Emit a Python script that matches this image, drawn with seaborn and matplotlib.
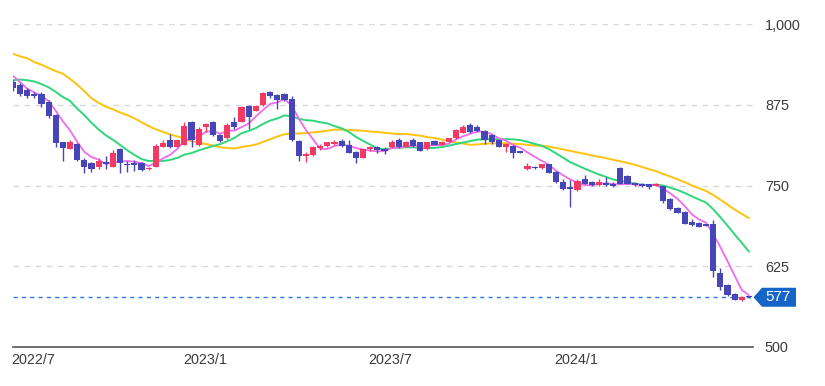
import numpy as np
import pandas as pd
import matplotlib
matplotlib.use("Agg")
import matplotlib.pyplot as plt
import seaborn as sns
from matplotlib.patches import Polygon
from matplotlib.transforms import IdentityTransform, ScaledTranslation

# ---------------- data (weekly candles) ----------------
opens = [910, 906, 898, 891, 892, 880, 859, 817, 807, 814,
         789, 785, 778, 787, 779, 807, 784, 785, 785, 775,
         779, 810, 820, 810, 813, 849, 813, 841, 849, 828,
         823, 849, 849, 873, 866, 874, 895, 890, 892, 884,
         819, 795, 797, 808, 811, 815, 819, 813, 802, 793,
         806, 809, 807, 809, 820, 810, 820, 817, 806, 819,
         813, 818, 823, 832, 843, 841, 835, 828, 820, 810,
         811, 803, 775, 779, 777, 783, 771, 756, 748, 743,
         760, 756, 751, 754, 753, 777, 764, 754, 753, 752,
         750, 749, 729, 715, 709, 694, 692, 690, 690, 615,
         596, 582, 572, 578]
closes = [901, 891, 889, 889, 876, 858, 816, 808, 818, 789,
          779, 776, 788, 784, 801, 785, 782, 782, 774, 777,
          811, 816, 809, 820, 842, 820, 838, 845, 828, 819,
          843, 840, 872, 856, 873, 893, 888, 883, 883, 820,
          795, 799, 810, 811, 817, 818, 811, 801, 793, 806,
          809, 805, 803, 818, 809, 817, 811, 804, 817, 813,
          818, 823, 836, 841, 833, 835, 821, 817, 810, 815,
          800, 801, 780, 777, 783, 770, 755, 744, 745, 757,
          753, 751, 756, 751, 749, 753, 753, 751, 749, 747,
          753, 726, 713, 708, 691, 689, 686, 688, 617, 593,
          580, 573, 578, 577]
highs = [913, 909, 901, 894, 895, 883, 860, 818, 820, 816,
         792, 787, 792, 796, 805, 808, 788, 790, 786, 779,
         814, 820, 829, 821, 849, 850, 840, 847, 850, 830,
         846, 856, 873, 874, 875, 894, 896, 891, 893, 888,
         820, 802, 811, 814, 818, 821, 822, 820, 803, 807,
         811, 811, 810, 820, 823, 819, 823, 818, 818, 820,
         819, 824, 837, 843, 846, 844, 836, 830, 821, 816,
         812, 804, 785, 780, 784, 784, 772, 760, 758, 760,
         766, 757, 760, 763, 755, 778, 766, 755, 754, 753,
         754, 750, 730, 716, 710, 698, 693, 691, 697, 623,
         597, 584, 579, 579]
lows = [896, 889, 886, 886, 872, 855, 810, 788, 806, 788,
        770, 771, 776, 776, 778, 770, 771, 773, 773, 774,
        778, 809, 808, 809, 812, 809, 811, 833, 826, 817,
        822, 838, 848, 838, 865, 873, 886, 868, 881, 819,
        788, 787, 796, 805, 810, 813, 810, 800, 785, 792,
        804, 800, 799, 808, 808, 809, 810, 803, 805, 812,
        812, 817, 822, 831, 831, 833, 815, 815, 809, 802,
        792, 800, 774, 776, 776, 769, 754, 743, 716, 742,
        752, 750, 750, 750, 748, 752, 752, 749, 748, 745,
        749, 723, 712, 707, 690, 688, 685, 687, 609, 588,
        579, 572, 571, 576]

# moving-average values at the start of the window (earlier weeks are not shown)
ma5_head = [920, 910, 900, 894]
ma13_head = [913, 914, 913, 911, 907, 902, 895, 887, 881, 869, 859, 847]
ma26_head = [954, 950, 947, 941, 937, 932, 927, 923, 915, 906, 896, 885, 878,
             872, 868, 863, 859, 854, 848, 842, 837, 833, 829, 826, 823]

tick_index = [0, 24, 50, 76]
tick_labels = ["2022/7", "2023/1", "2023/7", "2024/1"]
ytick_values = [500, 625, 750, 875, 1000]
last_price = 577

# ---------------- styling ----------------
sns.set_theme(style="white")
plt.rcParams["font.family"] = ["Liberation Sans", "DejaVu Sans"]

UP = "#f23a63"
DOWN = "#4646b8"
PINK = "#ef6cef"
GREEN = "#2fd67a"
YELLOW = "#ffc20e"
TEXT = "#3c3c3c"

n = len(closes)
week = np.arange(n)
df = pd.DataFrame({"week": week, "open": opens, "high": highs,
                   "low": lows, "close": closes})
cl = df["close"].astype(float)
df["ma5"] = cl.rolling(5).mean()
df["ma13"] = cl.rolling(13).mean()
df["ma26"] = cl.rolling(26).mean()
df.loc[:len(ma5_head) - 1, "ma5"] = ma5_head
df.loc[:len(ma13_head) - 1, "ma13"] = ma13_head
df.loc[:len(ma26_head) - 1, "ma26"] = ma26_head

W, H = 825, 386
fig = plt.figure(figsize=(W / 100, H / 100), dpi=100)
left_px, right_px, top_px, bot_px = 12.5, 753, 24, 347
ax = fig.add_axes([left_px / W, (H - bot_px) / H,
                   (right_px - left_px) / W, (bot_px - top_px) / H])
ax.set_facecolor("white")

# grid
for yv in ytick_values[1:]:
    ax.axhline(yv, color="#d8d8d8", lw=1, ls=(0, (4, 4)), zorder=0)

# moving averages
sns.lineplot(data=df, x="week", y="ma26", ax=ax, color=YELLOW, lw=1.4, zorder=2)
sns.lineplot(data=df, x="week", y="ma13", ax=ax, color=GREEN, lw=1.4, zorder=2)
sns.lineplot(data=df, x="week", y="ma5", ax=ax, color=PINK, lw=1.3, zorder=2)

# candles
o = df["open"].values
c = df["close"].values
cols = np.where(c >= o, UP, DOWN)
ax.vlines(week, df["low"], df["high"], colors=cols, lw=1.0, zorder=3)
body_h = np.maximum(np.abs(c - o), 2.0)
ax.bar(week, body_h, bottom=np.minimum(o, c), width=0.86, color=cols,
       linewidth=0, zorder=4)

# last price line
ax.axhline(last_price, color="#2b78e4", lw=1, ls=(0, (3, 3)), zorder=1)

ax.set_xlim(-0.05, 103.56)
ax.set_ylim(500, 1000)

for s in ["top", "left", "right"]:
    ax.spines[s].set_visible(False)
ax.spines["bottom"].set_color("#555555")
ax.spines["bottom"].set_linewidth(1.2)

ax.yaxis.tick_right()
ax.set_yticks(ytick_values)
ax.set_yticklabels([f"{v:,}" for v in ytick_values])
ax.tick_params(axis="y", length=0, pad=8.6, labelsize=10.4, labelcolor=TEXT)
ax.set_xticks(tick_index)
ax.set_xticklabels(tick_labels)
ax.tick_params(axis="x", length=0, pad=4.5, labelsize=10.4, labelcolor=TEXT)
for lab in ax.get_xticklabels():
    lab.set_horizontalalignment("left")
    lab.set_transform(lab.get_transform() +
                      ScaledTranslation(-1.5 / 100, 0, fig.dpi_scale_trans))
ax.set_xlabel("")
ax.set_ylabel("")

# price tag
fig.canvas.draw()
yd = ax.transData.transform((0, last_price))[1]
hh = 9.5
tag = Polygon([(753.5, yd), (762, yd + hh), (796, yd + hh), (796, yd - hh),
               (762, yd - hh)], closed=True, facecolor="#1565c8",
              edgecolor="none", transform=IdentityTransform())
fig.add_artist(tag)
fig.text(778 / W, yd / H, f"{last_price}", color="white", fontsize=11,
         ha="center", va="center")

fig.savefig("out.png", dpi=100, facecolor="white")
